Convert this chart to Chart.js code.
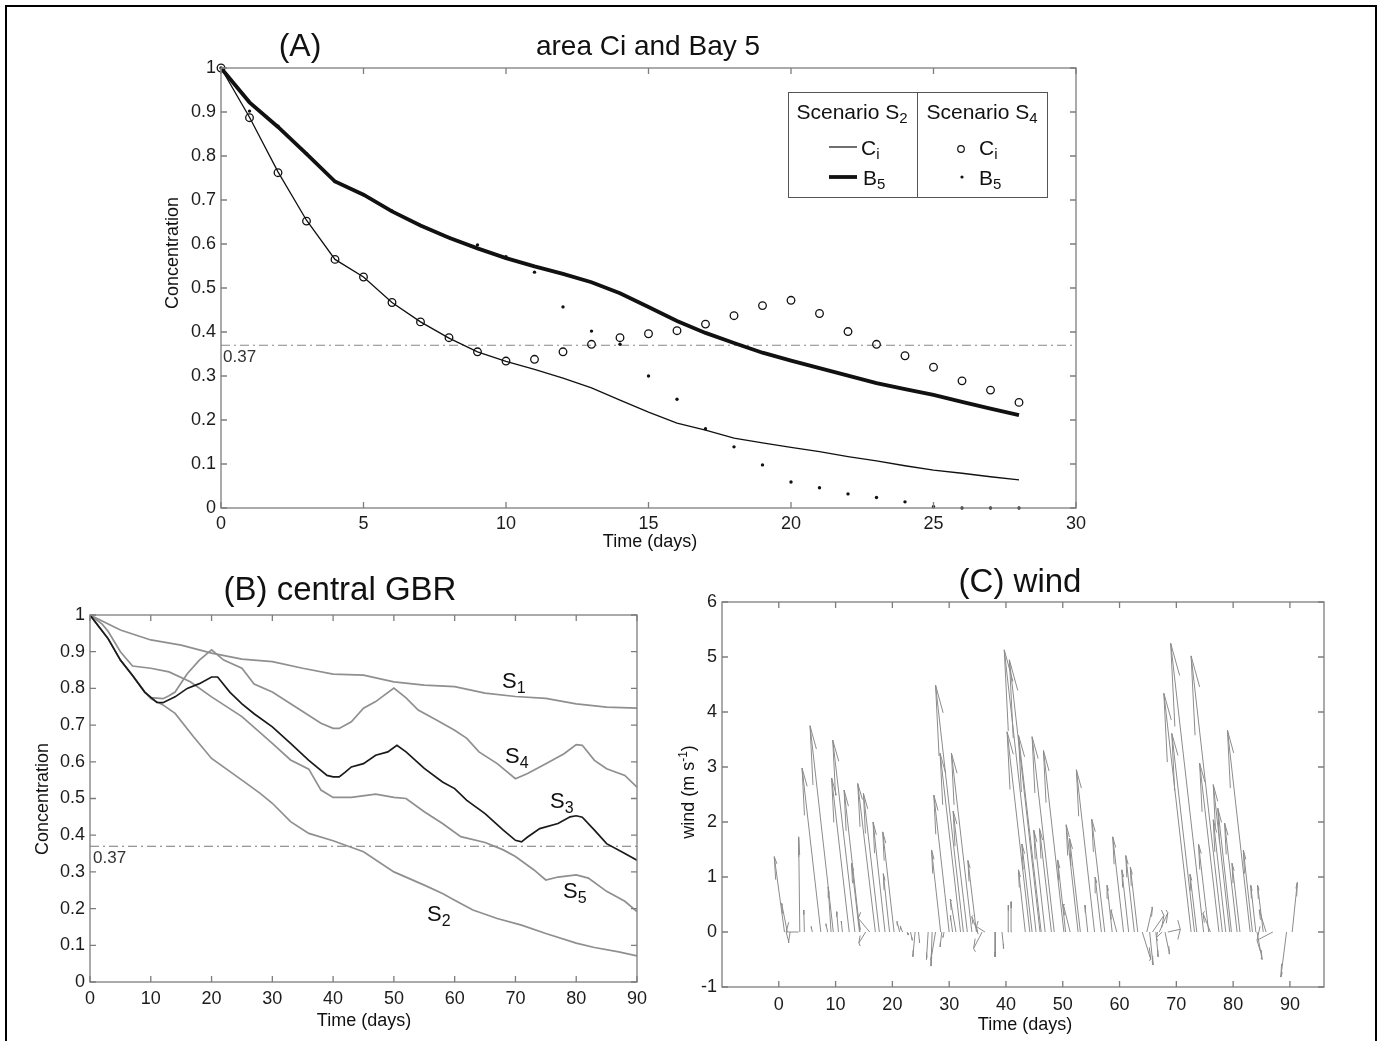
<!DOCTYPE html>
<html>
<head>
<meta charset="utf-8">
<title>Concentration and wind</title>
<script src="https://cdn.jsdelivr.net/npm/chart.js@4.4.1/dist/chart.umd.min.js"></script>
<style>
  html, body { margin: 0; padding: 0; background: #fff; }
  #fig { position: relative; width: 1381px; height: 1041px; overflow: hidden; background: #fff; }
  #fig canvas { position: absolute; left: 0; top: 0; }
  #frame { position: absolute; left: 5px; top: 5px; width: 1368px; height: 1060px; border: 2px solid #000; }
</style>
</head>
<body>
<div id="fig">
  <div id="frame"></div>
  <canvas id="panelA" width="1381" height="1041"></canvas>
  <canvas id="panelB" width="1381" height="1041"></canvas>
  <canvas id="panelC" width="1381" height="1041"></canvas>
</div>
<script>
// ---- panel A: area Ci and Bay 5 ----
const daysA = [0,1,2,3,4,5,6,7,8,9,10,11,12,13,14,15,16,17,18,19,20,21,22,23,24,25,26,27,28];
const s2Ci = [1,0.888,0.764,0.654,0.565,0.525,0.467,0.423,0.386,0.355,0.333,0.315,0.295,0.273,0.245,0.218,0.193,0.177,0.159,0.148,0.138,0.128,0.117,0.107,0.096,0.086,0.079,0.071,0.064];
const s2B5 = [1,0.922,0.866,0.805,0.742,0.712,0.674,0.642,0.614,0.59,0.568,0.549,0.532,0.513,0.488,0.457,0.425,0.398,0.375,0.353,0.335,0.318,0.301,0.284,0.27,0.257,0.241,0.226,0.211];
const s4Ci = [1,0.887,0.762,0.652,0.565,0.525,0.467,0.423,0.387,0.355,0.334,0.338,0.355,0.372,0.387,0.396,0.403,0.418,0.437,0.46,0.472,0.442,0.401,0.372,0.346,0.32,0.289,0.268,0.24];
const s4B5 = [1,0.902,0.868,0.805,0.742,0.712,0.675,0.642,0.615,0.598,0.571,0.536,0.457,0.402,0.372,0.30,0.247,0.18,0.139,0.098,0.059,0.046,0.032,0.024,0.014,0.003,0,0,0];
const xTicksA = [0,5,10,15,20,25,30];
const yTicksConc = [0,0.1,0.2,0.3,0.4,0.5,0.6,0.7,0.8,0.9,1];
const refXA = [0, 30];
const refY = [0.37, 0.37];

// ---- panel B: central GBR, scenarios S1..S5 ----
const s1T = [0,5,10,15,20,25,30,35,40,45,50,55,60,65,70,75,80,85,90];
const s1V = [1,0.959,0.932,0.918,0.896,0.88,0.873,0.855,0.839,0.836,0.818,0.809,0.805,0.787,0.778,0.773,0.758,0.749,0.746];
const s2T = [0,3,5,7,9,10,12,14,17,20,25,28,30,33,36,40,42.5,45,50,55,58,60,63,67,71,75,80,83,87,90];
const s2V = [1,0.935,0.877,0.835,0.79,0.772,0.755,0.732,0.669,0.609,0.55,0.514,0.487,0.437,0.405,0.385,0.37,0.355,0.30,0.264,0.241,0.223,0.196,0.173,0.155,0.132,0.106,0.094,0.082,0.071];
const s3T = [0,3,5,7,9,11,12,14,16,18,20,21,23,25,27,30,33,36,39,40,41,42,43,45,47,49,50.5,52,55,58,60,62,65,68,70,71,72,74,77,79,80,81,83,85,88,90];
const s3V = [1,0.935,0.877,0.835,0.79,0.762,0.761,0.777,0.80,0.813,0.831,0.831,0.79,0.758,0.731,0.695,0.65,0.604,0.563,0.559,0.559,0.572,0.586,0.595,0.618,0.627,0.645,0.627,0.582,0.545,0.527,0.495,0.459,0.414,0.386,0.382,0.395,0.418,0.432,0.45,0.453,0.449,0.414,0.377,0.35,0.332];
const s4T = [0,3,5,7,9,10,12,13,14,16,18,20,22,25,27,30,35,38,40,41,43,45,47,50,52,54,57,60,62,64,67,70,72,75,78,80,81,83,85,88,90];
const s4V = [1,0.935,0.877,0.835,0.79,0.775,0.772,0.78,0.79,0.84,0.877,0.905,0.877,0.855,0.812,0.79,0.737,0.705,0.691,0.691,0.709,0.746,0.764,0.801,0.774,0.741,0.714,0.686,0.664,0.627,0.595,0.554,0.568,0.595,0.622,0.647,0.645,0.604,0.581,0.563,0.531];
const s5T = [0,2,3,5,7,10,13,16.5,20,25,30,33,36,38,40,43,47,50,52,55,58,61,65,68,70,73,75,77,80,82,85,88,90];
const s5V = [1,0.975,0.955,0.9,0.861,0.855,0.845,0.818,0.777,0.723,0.65,0.605,0.58,0.523,0.503,0.503,0.512,0.503,0.50,0.464,0.432,0.396,0.38,0.36,0.342,0.306,0.278,0.286,0.292,0.283,0.247,0.22,0.192];
const xTicksB = [0,10,20,30,40,50,60,70,80,90];
const refXB = [0, 90];

// ---- panel C: wind sticks (base time in days, u and v in m/s) ----
const windT = [1.0,1.5,2.0,3.5,3.7,4.5,5.9,7.4,8.6,9.2,9.6,10.5,11.2,12.4,13.4,14.2,14.3,15.3,16.0,17.0,17.7,18.7,19.5,20.3,21.3,21.8,
  22.6,23.2,24.0,24.6,26.3,27.0,27.6,28.5,28.7,29.1,30.0,30.6,31.2,32.0,32.5,33.2,34.0,34.8,35.0,35.8,36.3,
  38.1,39.3,40.5,41.0,43.4,44.2,44.6,45.3,46.0,46.2,46.9,48.0,48.5,50.2,50.5,51.3,52.7,53.1,54.4,55.6,56.8,57.4,58.7,59.5,60.7,61.6,62.6,63.2,
  64.0,64.8,65.3,65.8,66.4,67.0,67.5,68.0,68.5,
  72.6,73.2,73.6,74.8,75.7,76.0,77.5,78.1,78.7,79.4,79.7,80.7,81.2,83.0,83.4,84.0,84.2,85.3,85.8,87.0,89.4,90.4];
const windU = [-1.8,-1.0,-0.3,-2.2,-0.2,-0.1,-0.2,-3.3,-0.3,-0.5,-4.1,-0.3,-0.2,-3.1,-3.9,-1.4,-2.8,-1.2,-2.0,-3.1,-2.8,-2.1,-1.1,-2.0,-0.5,-0.4,
  0.2,0.3,-0.4,0.2,-0.3,-0.2,-0.8,-1.6,-0.3,-0.2,-2.7,-0.4,-1.0,-3.6,-4.9,-2.5,-3.6,-1.5,-1.0,-1.5,-1.5,
  0.0,0.3,-0.1,-0.1,-1.2,-4.0,-1.8,-5.6,-5.4,-4.0,-2.0,-2.1,-3.9,-3.6,-1.4,-1.2,-2.1,-1.9,-0.5,-3.2,-1.1,-2.3,-0.9,-1.0,-1.9,-1.2,-1.5,-1.3,
  1.5,1.0,0.6,2.0,0.4,1.5,-1.0,0.8,2.2,
  -4.8,-4.0,-1.2,-5.8,-1.8,-1.3,-3.4,-5.5,-2.2,-2.9,-2.4,-2.2,-1.4,-4.0,-1.6,-0.9,0.9,-1.0,-1.2,-2.8,-1.0,0.9];
const windV = [1.37,0.52,-0.2,0.0,1.73,0.40,0.10,2.98,0.15,0.82,3.75,0.37,0.20,2.80,3.49,1.25,2.58,-0.20,0.25,2.70,2.52,2.00,1.06,1.82,0.19,0.10,
  -0.05,-0.15,-0.45,-0.20,-0.50,-0.62,-0.50,1.49,-0.27,-0.10,2.49,0.30,0.60,3.25,4.49,2.20,3.25,1.30,0.28,-0.30,0.10,
  -0.45,-0.30,0.49,0.55,1.13,3.64,1.60,5.13,4.95,3.58,1.85,1.88,3.55,3.30,1.31,0.50,1.95,1.70,0.49,2.95,1.00,2.05,0.85,0.40,1.73,1.13,1.39,1.18,
  -0.50,0.45,-0.60,0.30,-0.45,0.35,-0.10,-0.40,0.05,
  4.34,3.61,1.05,5.25,1.60,0.34,3.07,5.02,2.04,2.68,2.25,1.98,1.25,3.67,1.49,0.85,-0.50,0.85,0.40,-0.15,-0.82,0.90];
const xTicksC = [0,10,20,30,40,50,60,70,80,90];
const yTicksC = [-1,0,1,2,3,4,5,6];

const FONT = "'Liberation Sans', Arial, Helvetica, sans-serif";
const W = 1381, H = 1041;
Chart.defaults.font.family = FONT;
Chart.defaults.color = '#222';

function pts(xs, ys) { return xs.map((x, i) => ({ x: x, y: ys[i] })); }
function lbl(v) { return String(Math.round(v * 10) / 10); }

function axis(min, max, ticks, size, fitKey, fitVal, pad) {
  return {
    type: 'linear', min: min, max: max,
    afterBuildTicks: s => { s.ticks = ticks.map(v => ({ value: v })); },
    afterFit: s => { s[fitKey] = fitVal; },
    grid: { display: false, drawTicks: false },
    border: { display: false },
    ticks: { font: { size: size }, color: '#1c1c1c', padding: pad, autoSkip: false, maxRotation: 0, callback: lbl }
  };
}

// place plot area exactly at the box b, given fixed axis sizes
function layoutFor(b, yw, xh) {
  return { padding: { left: b.L - yw, top: b.T, right: W - b.R, bottom: H - b.B - xh } };
}

function rich(ctx, parts, x, y, align) {
  ctx.textAlign = 'left';
  ctx.textBaseline = 'alphabetic';
  let w = 0;
  parts.forEach(p => { ctx.font = p[1] + 'px ' + FONT; w += ctx.measureText(p[0]).width; });
  let cx = align === 'center' ? x - w / 2 : x;
  parts.forEach(p => {
    ctx.font = p[1] + 'px ' + FONT;
    ctx.fillText(p[0], cx, y + (p[2] || 0));
    cx += ctx.measureText(p[0]).width;
  });
}
function vtext(ctx, parts, x, y, size) {
  ctx.save();
  ctx.translate(x + size * 0.36, y);
  ctx.rotate(-Math.PI / 2);
  rich(ctx, parts, 0, 0, 'center');
  ctx.restore();
}

// box around plot area with inward ticks, then panel texts
function decor(extra) {
  return {
    id: 'decor',
    afterDatasetsDraw(chart) {
      const { ctx, chartArea: a, scales } = chart;
      ctx.save();
      ctx.strokeStyle = '#7d7d7d';
      ctx.lineWidth = 1.3;
      ctx.strokeRect(a.left, a.top, a.right - a.left, a.bottom - a.top);
      ctx.beginPath();
      scales.x.ticks.forEach(t => {
        const p = scales.x.getPixelForValue(t.value);
        ctx.moveTo(p, a.bottom); ctx.lineTo(p, a.bottom - 6);
        ctx.moveTo(p, a.top); ctx.lineTo(p, a.top + 6);
      });
      scales.y.ticks.forEach(t => {
        const p = scales.y.getPixelForValue(t.value);
        ctx.moveTo(a.left, p); ctx.lineTo(a.left + 6, p);
        ctx.moveTo(a.right, p); ctx.lineTo(a.right - 6, p);
      });
      ctx.stroke();
      ctx.restore();
    },
    afterDraw(chart) {
      const ctx = chart.ctx;
      ctx.save();
      ctx.fillStyle = '#111';
      extra(ctx, chart);
      ctx.restore();
    }
  };
}

const base = {
  responsive: false, animation: false, devicePixelRatio: 1, events: [],
  plugins: { legend: { display: false }, title: { display: false }, tooltip: { enabled: false } }
};
const dashDot = [9, 4, 2, 4];

// ---------- panel A ----------
const boxA = { L: 221, T: 68, R: 1076, B: 508 };
new Chart(document.getElementById('panelA'), {
  type: 'scatter',
  data: {
    datasets: [
      { data: pts(daysA, s4Ci), showLine: false, pointRadius: 3.8, pointBorderWidth: 1.3,
        pointBorderColor: '#111', pointBackgroundColor: 'rgba(0,0,0,0)', clip: false },
      { data: pts(daysA, s4B5), showLine: false, pointRadius: 1.7, pointBorderWidth: 0,
        pointBackgroundColor: '#111', clip: false },
      { data: pts(daysA, s2B5), showLine: true, borderColor: '#111', borderWidth: 3.8, pointRadius: 0 },
      { data: pts(daysA, s2Ci), showLine: true, borderColor: '#111', borderWidth: 1.3, pointRadius: 0 },
      { data: pts(refXA, refY), showLine: true, borderColor: '#888', borderWidth: 1.1,
        borderDash: dashDot, pointRadius: 0, order: 10 }
    ]
  },
  options: Object.assign({}, base, {
    layout: layoutFor(boxA, 60, 30),
    scales: {
      x: axis(0, 30, xTicksA, 18, 'height', 30, 5),
      y: axis(0, 1, yTicksConc, 18, 'width', 60, 5)
    }
  }),
  plugins: [decor((ctx) => {
    rich(ctx, [['(A)', 32]], 300, 56, 'center');
    rich(ctx, [['area Ci and Bay 5', 28]], 648, 55, 'center');
    vtext(ctx, [['Concentration', 18]], 172, 253, 18);
    rich(ctx, [['Time (days)', 18]], 650, 547, 'center');
    ctx.fillStyle = '#333';
    rich(ctx, [['0.37', 17]], 223, 362, 'left');
    // legend table
    ctx.fillStyle = '#111';
    ctx.strokeStyle = '#555';
    ctx.lineWidth = 1;
    ctx.strokeRect(788.5, 92.5, 259, 105);
    ctx.beginPath(); ctx.moveTo(917.5, 92.5); ctx.lineTo(917.5, 197.5); ctx.stroke();
    rich(ctx, [['Scenario S', 21], ['2', 15, 4]], 852, 119, 'center');
    rich(ctx, [['Scenario S', 21], ['4', 15, 4]], 982, 119, 'center');
    ctx.strokeStyle = '#111';
    ctx.lineWidth = 1.2;
    ctx.beginPath(); ctx.moveTo(829, 147); ctx.lineTo(857, 147); ctx.stroke();
    ctx.lineWidth = 3.8;
    ctx.beginPath(); ctx.moveTo(829, 177); ctx.lineTo(857, 177); ctx.stroke();
    rich(ctx, [['C', 21], ['i', 15, 4]], 861, 155, 'left');
    rich(ctx, [['B', 21], ['5', 15, 4]], 863, 185, 'left');
    ctx.lineWidth = 1.2;
    ctx.beginPath(); ctx.arc(961, 149, 3.3, 0, Math.PI * 2); ctx.stroke();
    ctx.beginPath(); ctx.arc(962, 177, 1.6, 0, Math.PI * 2); ctx.fill();
    rich(ctx, [['C', 21], ['i', 15, 4]], 979, 155, 'left');
    rich(ctx, [['B', 21], ['5', 15, 4]], 979, 185, 'left');
  })]
});

// ---------- panel B ----------
const boxB = { L: 90, T: 615, R: 637, B: 982 };
const grey = '#8f8f8f';
function lineSet(xs, ys, col) {
  return { data: pts(xs, ys), showLine: true, borderColor: col, borderWidth: 1.7, pointRadius: 0 };
}
new Chart(document.getElementById('panelB'), {
  type: 'scatter',
  data: {
    datasets: [
      lineSet(s3T, s3V, '#1a1a1a'),
      lineSet(s1T, s1V, grey),
      lineSet(s2T, s2V, grey),
      lineSet(s4T, s4V, grey),
      lineSet(s5T, s5V, grey),
      { data: pts(refXB, refY), showLine: true, borderColor: '#777', borderWidth: 1.1,
        borderDash: dashDot, pointRadius: 0, order: 10 }
    ]
  },
  options: Object.assign({}, base, {
    layout: layoutFor(boxB, 60, 36),
    scales: {
      x: axis(0, 90, xTicksB, 18, 'height', 36, 6),
      y: axis(0, 1, yTicksConc, 18, 'width', 60, 5)
    }
  }),
  plugins: [decor((ctx) => {
    rich(ctx, [['(B) central GBR', 33]], 340, 600, 'center');
    vtext(ctx, [['Concentration', 18]], 42, 799, 18);
    rich(ctx, [['Time (days)', 18]], 364, 1026, 'center');
    ctx.fillStyle = '#333';
    rich(ctx, [['0.37', 17]], 93, 863, 'left');
    ctx.fillStyle = '#111';
    rich(ctx, [['S', 22], ['1', 16, 5]], 502, 688, 'left');
    rich(ctx, [['S', 22], ['4', 16, 5]], 505, 763, 'left');
    rich(ctx, [['S', 22], ['3', 16, 5]], 550, 808, 'left');
    rich(ctx, [['S', 22], ['5', 16, 5]], 563, 898, 'left');
    rich(ctx, [['S', 22], ['2', 16, 5]], 427, 921, 'left');
  })]
});

// ---------- panel C ----------
const boxC = { L: 722, T: 602, R: 1324, B: 987 };
const stickPts = [];
windT.forEach((t, i) => {
  const u = windU[i], v = windV[i];
  stickPts.push({ x: t, y: 0 }, { x: t + u, y: v }, { x: t + u, y: null });
  stickPts.push({ x: t + 0.8 * u - 0.08 * v, y: 0.8 * v + 0.08 * u }, { x: t + u, y: v },
                { x: t + 0.8 * u + 0.08 * v, y: 0.8 * v - 0.08 * u }, { x: t, y: null });
});
new Chart(document.getElementById('panelC'), {
  type: 'scatter',
  data: {
    datasets: [
      { data: stickPts, showLine: true, spanGaps: false, borderColor: '#8c8c8c', borderWidth: 1, pointRadius: 0 }
    ]
  },
  options: Object.assign({}, base, {
    layout: layoutFor(boxC, 50, 36),
    scales: {
      x: axis(-10, 96, xTicksC, 18, 'height', 36, 7),
      y: axis(-1, 6, yTicksC, 18, 'width', 50, 5)
    }
  }),
  plugins: [decor((ctx) => {
    rich(ctx, [['(C) wind', 33]], 1020, 592, 'center');
    vtext(ctx, [['wind (m s', 18], ['-1', 12, -7], [')', 18]], 688, 792, 18);
    rich(ctx, [['Time (days)', 18]], 1025, 1030, 'center');
  })]
});
</script>
</body>
</html>
